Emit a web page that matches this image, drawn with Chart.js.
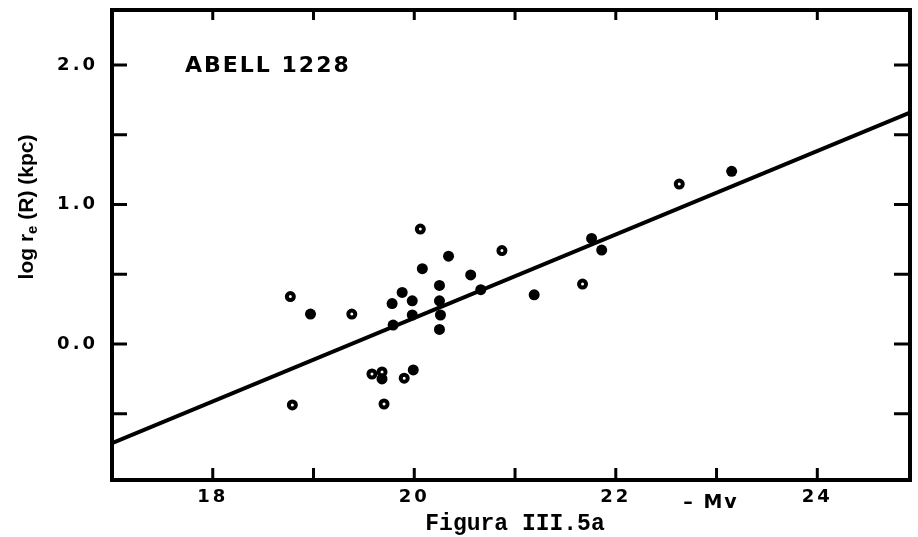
<!DOCTYPE html>
<html>
<head>
<meta charset="utf-8">
<script src="https://cdn.jsdelivr.net/npm/chart.js@4.4.1/dist/chart.umd.min.js"></script>
<style>
  html, body { margin: 0; padding: 0; background: #fff; }
</style>
</head>
<body>
<canvas id="scatter-chart" width="918" height="537"></canvas>
<script>
// galaxies of Abell 1228, -Mv against log re
const filledX = [18.97, 20.34, 20.08, 20.56, 20.25, 19.88, 19.78, 19.98, 20.25, 19.98, 20.26, 19.79, 20.25, 19.68, 19.99, 20.66, 21.19, 21.76, 21.86, 23.15]
const filledY = [0.215, 0.63, 0.54, 0.495, 0.42, 0.37, 0.29, 0.31, 0.31, 0.208, 0.208, 0.136, 0.105, -0.25, -0.186, 0.39, 0.353, 0.757, 0.674, 1.238]
// the dots with a small hole in the middle
const openX = [18.77, 19.38, 20.06, 19.58, 19.68, 19.90, 18.79, 19.70, 20.87, 21.67, 22.63]
const openY = [0.34, 0.215, 0.824, -0.215, -0.20, -0.245, -0.437, -0.43, 0.67, 0.43, 1.147]

// straight fit line, end to end
const fitX = [17, 24.92]
const fitY = [-0.71, 1.66]

// tick marks and which ones get a number
const xTicks = [18, 19, 20, 21, 22, 23, 24]
const xLabelled = [18, 20, 22, 24]
const yTicks = [-0.5, 0, 0.5, 1, 1.5, 2]
const yLabelled = [0, 1, 2]

const toPoints = (xs, ys) => xs.map((x, i) => ({ x: x, y: ys[i] }))

// box, inward ticks and the loose captions
const framePlugin = {
  id: 'frame',
  beforeDraw: (chart) => {
    chart.ctx.letterSpacing = '3px'
  },
  afterDraw: (chart) => {
    const ctx = chart.ctx
    const a = chart.chartArea
    const xs = chart.scales.x
    const ys = chart.scales.y
    ctx.save()
    ctx.strokeStyle = '#000'
    ctx.lineWidth = 4
    ctx.strokeRect(a.left, a.top, a.right - a.left, a.bottom - a.top)
    ctx.lineWidth = 3
    ctx.beginPath()
    xTicks.forEach((v) => {
      const px = xs.getPixelForValue(v)
      ctx.moveTo(px, a.bottom)
      ctx.lineTo(px, a.bottom - 12)
      ctx.moveTo(px, a.top)
      ctx.lineTo(px, a.top + 10)
    })
    yTicks.forEach((v) => {
      const py = ys.getPixelForValue(v)
      ctx.moveTo(a.left, py)
      ctx.lineTo(a.left + 15, py)
      ctx.moveTo(a.right, py)
      ctx.lineTo(a.right - 16, py)
    })
    ctx.stroke()

    ctx.fillStyle = '#000'
    ctx.textBaseline = 'alphabetic'
    ctx.textAlign = 'left'
    ctx.letterSpacing = '2px'
    ctx.font = 'bold 22px "DejaVu Sans"'
    ctx.fillText('ABELL 1228', 185, 72)

    ctx.textAlign = 'center'
    ctx.font = 'bold 19px "DejaVu Sans"'
    ctx.fillText('– Mv', 711, 508)

    ctx.letterSpacing = '0px'
    ctx.font = 'bold 23px "Liberation Mono"'
    ctx.fillText('Figura III.5a', 515, 530)

    // y title, rotated, with the subscript e
    ctx.translate(33, 207)
    ctx.rotate(-Math.PI / 2)
    ctx.textAlign = 'left'
    const big = 'bold 21px "Liberation Sans"'
    const small = 'bold 15px "Liberation Sans"'
    ctx.font = big
    const w1 = ctx.measureText('log r').width
    const w3 = ctx.measureText(' (R) (kpc)').width
    ctx.font = small
    const w2 = ctx.measureText('e').width
    let x0 = -(w1 + w2 + w3) / 2
    ctx.font = big
    ctx.fillText('log r', x0, 0)
    ctx.font = small
    ctx.fillText('e', x0 + w1, 4)
    ctx.font = big
    ctx.fillText(' (R) (kpc)', x0 + w1 + w2, 0)
    ctx.restore()
  }
}

document.addEventListener('DOMContentLoaded', () => {
  const ctx = document.getElementById('scatter-chart').getContext('2d')
  new Chart(ctx, {
    type: 'scatter',
    data: {
      datasets: [
        {
          data: toPoints(fitX, fitY),
          showLine: true,
          borderColor: '#000',
          borderWidth: 4,
          pointRadius: 0
        },
        {
          data: toPoints(filledX, filledY),
          pointRadius: 5.5,
          backgroundColor: '#000',
          borderWidth: 0
        },
        {
          data: toPoints(openX, openY),
          pointRadius: 3.5,
          backgroundColor: '#fff',
          borderColor: '#000',
          borderWidth: 4
        }
      ]
    },
    options: {
      responsive: false,
      animation: false,
      layout: { padding: { top: 10, right: 5, left: 0, bottom: 0 } },
      scales: {
        x: {
          type: 'linear',
          min: 17,
          max: 24.92,
          afterBuildTicks: (scale) => { scale.ticks = xTicks.map((v) => ({ value: v })) },
          afterFit: (scale) => {
            scale.height = 57
            scale.paddingLeft = 0
            scale.paddingRight = 0
          },
          grid: { display: false, drawTicks: false },
          border: { display: false },
          ticks: {
            autoSkip: false,
            maxRotation: 0,
            padding: 7,
            color: '#000',
            font: { family: 'DejaVu Sans', size: 18, weight: 'bold' },
            callback: (v) => (xLabelled.includes(v) ? String(v) : '')
          }
        },
        y: {
          type: 'linear',
          min: -0.975,
          max: 2.395,
          afterBuildTicks: (scale) => { scale.ticks = yTicks.map((v) => ({ value: v })) },
          afterFit: (scale) => {
            scale.width = 112
            scale.paddingTop = 0
            scale.paddingBottom = 0
          },
          grid: { display: false, drawTicks: false },
          border: { display: false },
          ticks: {
            autoSkip: false,
            padding: 14,
            color: '#000',
            font: { family: 'DejaVu Sans', size: 18, weight: 'bold' },
            callback: (v) => (yLabelled.includes(v) ? v.toFixed(1) : '')
          }
        }
      },
      plugins: {
        legend: { display: false },
        tooltip: { enabled: false }
      }
    },
    plugins: [framePlugin]
  })
})
</script>
</body>
</html>
